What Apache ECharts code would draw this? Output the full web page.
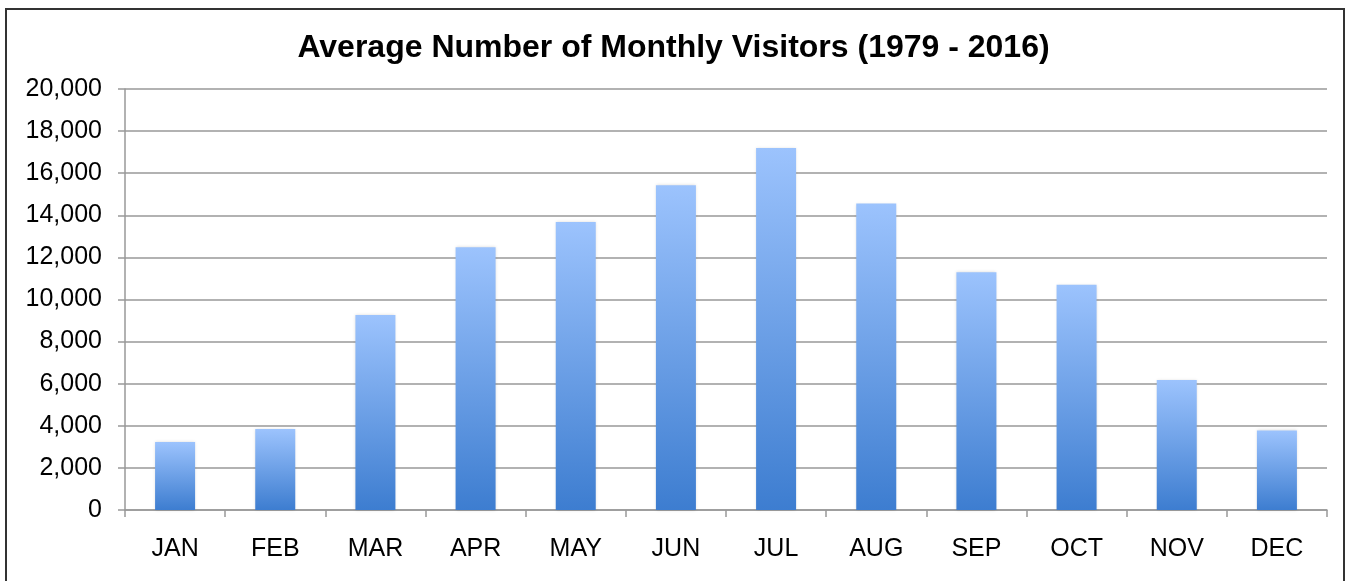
<!DOCTYPE html>
<html>
<head>
<meta charset="utf-8">
<script src="https://cdn.jsdelivr.net/npm/echarts@6/dist/echarts.min.js"></script>
<style>
  html, body { margin: 0; padding: 0; background: #fff; }
  #frame { position: absolute; left: 5px; top: 8px; width: 1340px; height: 580px; border: 2px solid #333; box-sizing: border-box; }
  #chart { position: absolute; left: 0; top: 0; width: 1347px; height: 581px; }
</style>
</head>
<body>
<div id="frame"></div>
<div id="chart"></div>
<script>
// monthly averages
const months = ['JAN', 'FEB', 'MAR', 'APR', 'MAY', 'JUN', 'JUL', 'AUG', 'SEP', 'OCT', 'NOV', 'DEC'];
const visitors = [3230, 3850, 9260, 12480, 13680, 15430, 17200, 14560, 11300, 10700, 6180, 3780];

const chart = echarts.init(document.getElementById('chart'));

chart.setOption({
  animation: false,
  title: {
    text: 'Average Number of Monthly Visitors (1979 - 2016)',
    left: 'center',
    top: 27,
    textStyle: {
      fontFamily: 'Liberation Sans, Arial, sans-serif',
      fontSize: 32,
      fontWeight: 'bold',
      color: '#000'
    }
  },
  grid: {
    left: 125,
    right: 20,
    top: 89,
    bottom: 71,
    containLabel: false
  },
  xAxis: {
    type: 'category',
    data: months,
    axisLine: {lineStyle: {color: '#999', width: 1.5}},
    axisTick: {show: true, length: 7, alignWithLabel: false, lineStyle: {color: '#999', width: 1.5}},
    axisLabel: {
      fontFamily: 'Liberation Sans, Arial, sans-serif',
      fontSize: 25,
      color: '#000',
      margin: 27
    }
  },
  yAxis: {
    type: 'value',
    min: 0,
    max: 20000,
    interval: 2000,
    axisLine: {show: true, lineStyle: {color: '#999', width: 1.5}},
    axisTick: {show: true, length: 7, lineStyle: {color: '#999', width: 1.5}},
    splitLine: {lineStyle: {color: '#999', width: 1.5}},
    axisLabel: {
      fontFamily: 'Liberation Sans, Arial, sans-serif',
      fontSize: 25,
      color: '#000',
      margin: 23,
      formatter: v => v.toLocaleString('en-US')
    }
  },
  series: [{
    type: 'bar',
    data: visitors,
    barWidth: 40,
    itemStyle: {
      color: new echarts.graphic.LinearGradient(0, 0, 0, 1, [
        {offset: 0, color: '#9cc3fd'},
        {offset: 1, color: '#3d7dd0'}
      ]),
      shadowColor: 'rgba(0, 0, 0, 0.15)',
      shadowBlur: 3
    }
  }]
});
</script>
</body>
</html>
